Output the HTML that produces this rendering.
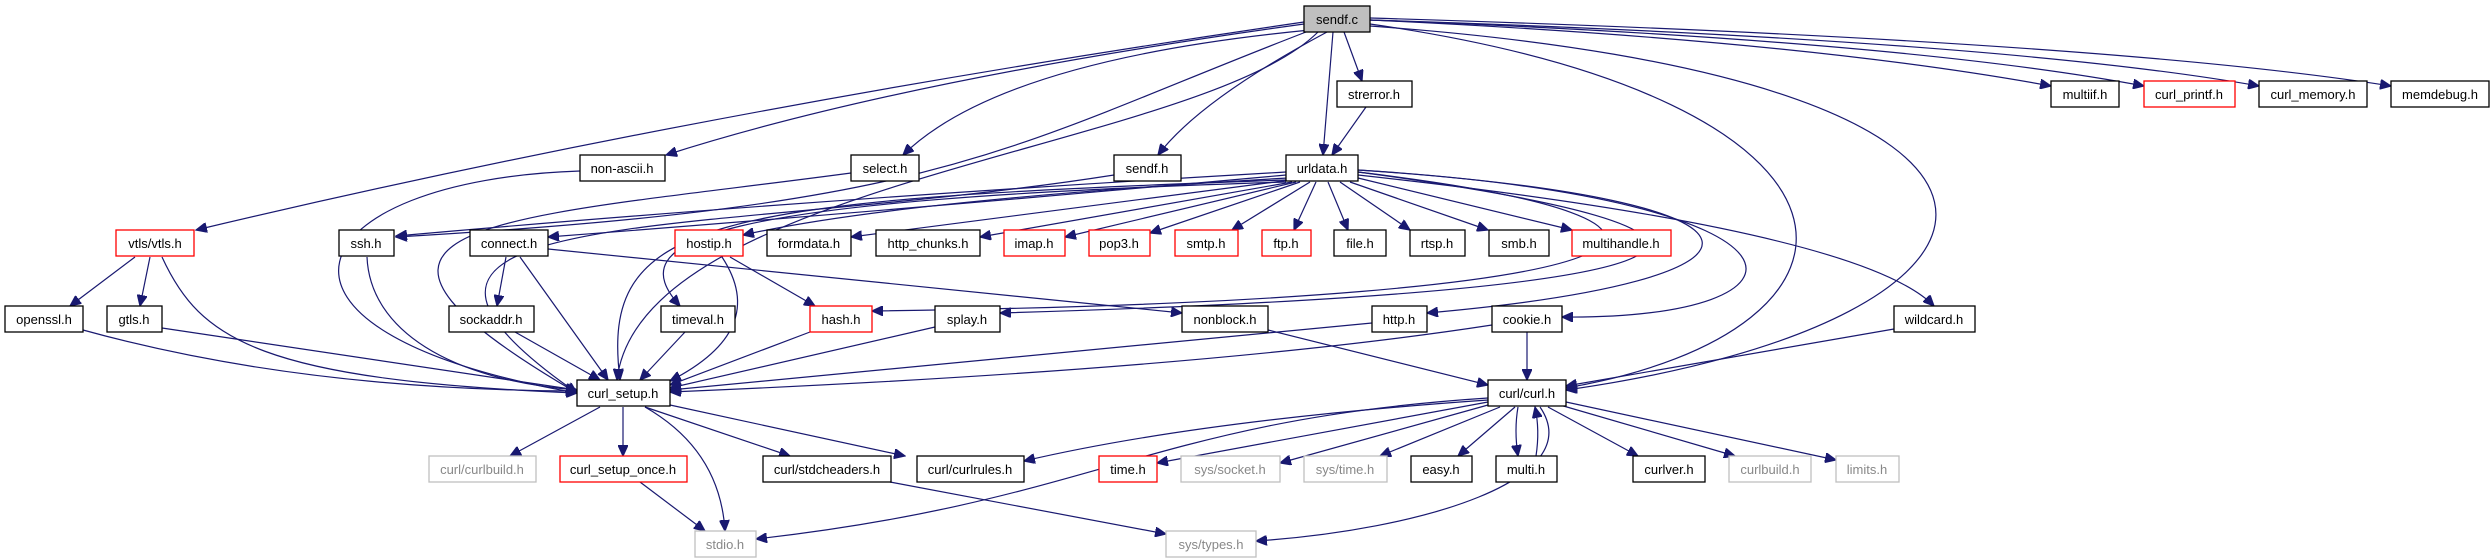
<!DOCTYPE html>
<html><head><meta charset="utf-8"><style>
html,body{margin:0;padding:0;background:#fff;}
svg{display:block;}
text{font-family:"Liberation Sans",sans-serif;font-size:13px;text-anchor:middle;fill:#000;}
.n{fill:#fff;stroke:#000;stroke-width:1.3;}
.r{fill:#fff;stroke:#ff0000;stroke-width:1.3;}
.g{fill:#fff;stroke:#bfbfbf;stroke-width:1.3;}
.gt{fill:#888;}
path{fill:none;stroke:#191970;stroke-width:1.2;marker-end:url(#a);}
</style></head><body>
<svg width="2492" height="560" viewBox="0 0 2492 560" xmlns="http://www.w3.org/2000/svg">
<defs><marker id="a" markerUnits="userSpaceOnUse" markerWidth="12" markerHeight="10" refX="11" refY="5" orient="auto"><path d="M0,0 L11,5 L0,10 Z" style="fill:#191970;stroke:#191970;marker-end:none"/></marker></defs>
<g>
<path d="M1304,22 Q700,110 196,230"/>
<path d="M1304,24 Q900,80 666,155"/>
<path d="M1310,30 Q1000,60 903,155"/>
<path d="M1327,32 Q1200,100 1158,155"/>
<path d="M1306,32 C1000,150 950,205 396,237"/>
<path d="M1318,32 C1200,150 640,180 617,380"/>
<path d="M1333,32 L1323,155"/>
<path d="M1344,32 L1362,81"/>
<path d="M1370,20 Q1800,40 2051,86"/>
<path d="M1370,20 Q1900,40 2144,86"/>
<path d="M1370,20 Q2000,40 2259,86"/>
<path d="M1370,18 Q2100,40 2391,86"/>
<path d="M1370,24 C1900,100 1900,330 1566,388"/>
<path d="M1370,26 C2120,80 2060,320 1566,390"/>
<path d="M1366,107 L1332,155"/>
<path d="M1286,172 Q800,200 396,236"/>
<path d="M1286,175 Q900,210 548,237"/>
<path d="M1288,178 Q900,200 743,235"/>
<path d="M1290,180 L851,237"/>
<path d="M1292,182 L980,237"/>
<path d="M1296,182 L1065,237"/>
<path d="M1300,182 L1150,233"/>
<path d="M1310,182 L1232,230"/>
<path d="M1316,182 L1294,230"/>
<path d="M1328,182 L1348,230"/>
<path d="M1340,182 L1410,230"/>
<path d="M1350,182 L1488,230"/>
<path d="M1358,178 L1572,230"/>
<path d="M1286,182 C700,200 620,240 680,306"/>
<path d="M1286,180 C700,200 600,220 620,380"/>
<path d="M1358,172 C1760,220 1720,300 872,311"/>
<path d="M1358,172 C1790,230 1790,290 1000,313"/>
<path d="M1358,170 C1810,200 1800,280 1427,313"/>
<path d="M1358,170 C1840,200 1830,320 1562,317"/>
<path d="M1358,175 Q1860,230 1934,306"/>
<path d="M548,249 L1182,313"/>
<path d="M135,257 L70,306"/>
<path d="M150,257 L140,306"/>
<path d="M162,257 C200,340 260,380 577,393"/>
<path d="M83,330 Q300,390 577,391"/>
<path d="M162,328 L577,390"/>
<path d="M580,171 C300,180 220,330 577,393"/>
<path d="M851,173 C500,220 280,220 577,393"/>
<path d="M1114,175 C700,240 300,200 577,393"/>
<path d="M367,257 C370,330 450,380 577,390"/>
<path d="M506,257 L497,306"/>
<path d="M520,257 L608,380"/>
<path d="M515,332 L600,380"/>
<path d="M685,332 L640,380"/>
<path d="M730,257 L815,306"/>
<path d="M722,257 Q770,330 670,381"/>
<path d="M810,332 L670,385"/>
<path d="M935,327 L670,388"/>
<path d="M1372,323 L670,390"/>
<path d="M1492,325 Q1200,370 670,392"/>
<path d="M1527,332 L1527,380"/>
<path d="M1268,330 L1488,385"/>
<path d="M1894,329 L1566,386"/>
<path d="M600,407 L510,456"/>
<path d="M623,407 L623,456"/>
<path d="M645,407 L790,456"/>
<path d="M670,405 L905,456"/>
<path d="M645,407 Q720,450 725,531"/>
<path d="M640,482 L705,531"/>
<path d="M890,482 L1166,534"/>
<path d="M1488,400 Q1200,420 1024,461"/>
<path d="M1488,402 L1157,463"/>
<path d="M1488,405 L1280,463"/>
<path d="M1500,407 L1380,456"/>
<path d="M1515,407 L1458,456"/>
<path d="M1518,407 Q1514,430 1518,456"/>
<path d="M1536,456 Q1540,430 1535,407"/>
<path d="M1548,407 L1638,456"/>
<path d="M1560,405 L1735,456"/>
<path d="M1566,402 L1836,460"/>
<path d="M1488,398 C1150,420 1100,500 756,539"/>
<path d="M1540,407 C1590,480 1420,530 1256,541"/>
</g>
<g>
<rect x="1304" y="6" width="66" height="26" style="fill:#bfbfbf;stroke:#000;stroke-width:1.3"/><text x="1337" y="24">sendf.c</text>
<rect class="n" x="1337" y="81" width="75" height="26"/><text x="1374" y="99">strerror.h</text>
<rect class="n" x="2051" y="81" width="68" height="26"/><text x="2085" y="99">multiif.h</text>
<rect class="r" x="2144" y="81" width="91" height="26"/><text x="2189" y="99">curl_printf.h</text>
<rect class="n" x="2259" y="81" width="108" height="26"/><text x="2313" y="99">curl_memory.h</text>
<rect class="n" x="2391" y="81" width="98" height="26"/><text x="2440" y="99">memdebug.h</text>
<rect class="n" x="580" y="155" width="85" height="26"/><text x="622" y="173">non-ascii.h</text>
<rect class="n" x="851" y="155" width="68" height="26"/><text x="885" y="173">select.h</text>
<rect class="n" x="1114" y="155" width="67" height="26"/><text x="1147" y="173">sendf.h</text>
<rect class="n" x="1286" y="155" width="72" height="26"/><text x="1322" y="173">urldata.h</text>
<rect class="r" x="116" y="230" width="78" height="26"/><text x="155" y="248">vtls/vtls.h</text>
<rect class="n" x="339" y="230" width="55" height="26"/><text x="366" y="248">ssh.h</text>
<rect class="n" x="470" y="230" width="78" height="26"/><text x="509" y="248">connect.h</text>
<rect class="r" x="675" y="230" width="68" height="26"/><text x="709" y="248">hostip.h</text>
<rect class="n" x="767" y="230" width="84" height="26"/><text x="809" y="248">formdata.h</text>
<rect class="n" x="876" y="230" width="104" height="26"/><text x="928" y="248">http_chunks.h</text>
<rect class="r" x="1004" y="230" width="61" height="26"/><text x="1034" y="248">imap.h</text>
<rect class="r" x="1089" y="230" width="61" height="26"/><text x="1119" y="248">pop3.h</text>
<rect class="r" x="1175" y="230" width="63" height="26"/><text x="1206" y="248">smtp.h</text>
<rect class="r" x="1262" y="230" width="49" height="26"/><text x="1286" y="248">ftp.h</text>
<rect class="n" x="1334" y="230" width="52" height="26"/><text x="1360" y="248">file.h</text>
<rect class="n" x="1410" y="230" width="55" height="26"/><text x="1437" y="248">rtsp.h</text>
<rect class="n" x="1489" y="230" width="60" height="26"/><text x="1519" y="248">smb.h</text>
<rect class="r" x="1572" y="230" width="99" height="26"/><text x="1621" y="248">multihandle.h</text>
<rect class="n" x="5" y="306" width="78" height="26"/><text x="44" y="324">openssl.h</text>
<rect class="n" x="107" y="306" width="55" height="26"/><text x="134" y="324">gtls.h</text>
<rect class="n" x="449" y="306" width="85" height="26"/><text x="491" y="324">sockaddr.h</text>
<rect class="n" x="661" y="306" width="74" height="26"/><text x="698" y="324">timeval.h</text>
<rect class="r" x="810" y="306" width="62" height="26"/><text x="841" y="324">hash.h</text>
<rect class="n" x="935" y="306" width="65" height="26"/><text x="967" y="324">splay.h</text>
<rect class="n" x="1182" y="306" width="86" height="26"/><text x="1225" y="324">nonblock.h</text>
<rect class="n" x="1372" y="306" width="55" height="26"/><text x="1399" y="324">http.h</text>
<rect class="n" x="1492" y="306" width="70" height="26"/><text x="1527" y="324">cookie.h</text>
<rect class="n" x="1894" y="306" width="81" height="26"/><text x="1934" y="324">wildcard.h</text>
<rect class="n" x="577" y="380" width="93" height="26"/><text x="623" y="398">curl_setup.h</text>
<rect class="n" x="1488" y="380" width="78" height="26"/><text x="1527" y="398">curl/curl.h</text>
<rect class="g" x="429" y="456" width="107" height="26"/><text class="gt" x="482" y="474">curl/curlbuild.h</text>
<rect class="r" x="560" y="456" width="127" height="26"/><text x="623" y="474">curl_setup_once.h</text>
<rect class="n" x="763" y="456" width="128" height="26"/><text x="827" y="474">curl/stdcheaders.h</text>
<rect class="n" x="917" y="456" width="107" height="26"/><text x="970" y="474">curl/curlrules.h</text>
<rect class="r" x="1099" y="456" width="58" height="26"/><text x="1128" y="474">time.h</text>
<rect class="g" x="1181" y="456" width="99" height="26"/><text class="gt" x="1230" y="474">sys/socket.h</text>
<rect class="g" x="1304" y="456" width="83" height="26"/><text class="gt" x="1345" y="474">sys/time.h</text>
<rect class="n" x="1411" y="456" width="61" height="26"/><text x="1441" y="474">easy.h</text>
<rect class="n" x="1496" y="456" width="61" height="26"/><text x="1526" y="474">multi.h</text>
<rect class="n" x="1633" y="456" width="72" height="26"/><text x="1669" y="474">curlver.h</text>
<rect class="g" x="1729" y="456" width="82" height="26"/><text class="gt" x="1770" y="474">curlbuild.h</text>
<rect class="g" x="1836" y="456" width="63" height="26"/><text class="gt" x="1867" y="474">limits.h</text>
<rect class="g" x="695" y="531" width="61" height="26"/><text class="gt" x="725" y="549">stdio.h</text>
<rect class="g" x="1166" y="531" width="90" height="26"/><text class="gt" x="1211" y="549">sys/types.h</text>
</g>
</svg>
</body></html>
